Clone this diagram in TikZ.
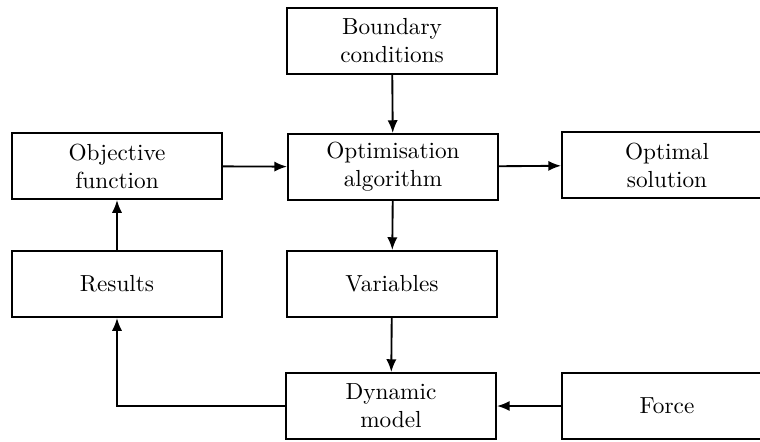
\documentclass[tikz,border=0pt]{standalone}
\usetikzlibrary{arrows.meta}

\tikzset{
    block/.style={draw, thick, align=center, minimum width=90.3pt, minimum height=28.4pt, inner sep=2pt},
    flow/.style={thick, -{Latex[length=5.5pt,width=4.4pt]}}
}

\begin{document}
\begin{tikzpicture}[x=0.43pt, y=-0.43pt]
            \useasboundingbox (0, 0) rectangle (760, 441);

            % Rita blocken
            \node[block] (bound) at (392, 41) {Boundary\\conditions};
            \node[block] (obj) at (117, 166) {Objective\\function};
            \node[block] (optim) at (393, 167) {Optimisation\\algorithm};
            \node[block] (optsol) at (667, 165) {Optimal\\solution};
            \node[block] (results) at (117, 284) {Results};
            \node[block] (vars) at (392, 284) {Variables};
            \node[block] (dyn) at (391, 406) {Dynamic\\model};
            \node[block] (force) at (667, 406) {Force};

            % Rita pilarna
            \draw[flow] (bound) -- (optim);
            \draw[flow] (obj) -- (optim);
            \draw[flow] (optim) -- (optsol);
            \draw[flow] (optim) -- (vars);
            \draw[flow] (vars) -- (dyn);
            \draw[flow] (force) -- (dyn);
            \draw[flow] (dyn.west) -| (results.south);
            \draw[flow] (results) -- (obj);
        \end{tikzpicture}
\end{document}
